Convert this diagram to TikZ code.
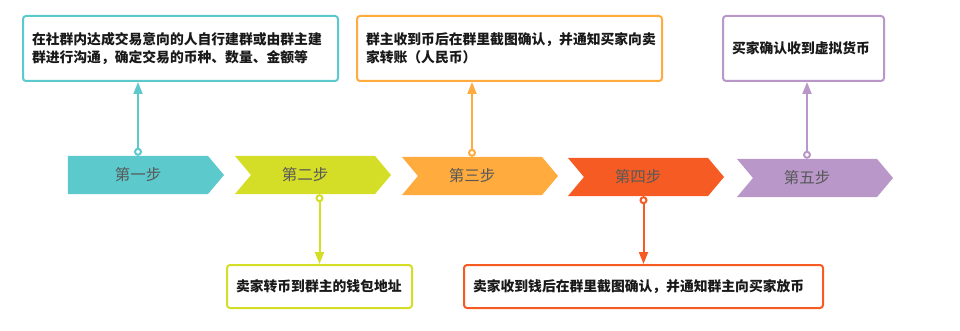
\documentclass[tikz,border=0pt]{standalone}
\usepackage{fontspec}
\setmainfont{Noto Sans CJK SC}
\usetikzlibrary{arrows.meta,positioning,shapes.symbols}
\definecolor{StepA}{HTML}{5CC9CC}
\definecolor{StepB}{HTML}{D5DE26}
\definecolor{StepC}{HTML}{FFAB3D}
\definecolor{StepD}{HTML}{F55B22}
\definecolor{StepE}{HTML}{B997C9}
\definecolor{StepText}{HTML}{595959}
\newcommand{\notchtext}[1]{\hspace*{-16pt}#1}
\tikzset{
  stepsign/.style={
    signal,
    signal to=east,
    signal pointer angle=100,
    fill=#1,
    minimum height=38pt,
    minimum width=156pt,
    inner sep=0pt,
    text=StepText,
    font=\fontsize{15.5}{18}\selectfont
  },
  notched/.style={signal from=west},
  notebox/.style={
    draw=#1,
    line width=2pt,
    rounded corners=3pt,
    fill=white,
    align=left,
    inner xsep=9pt,
    text=black!90,
    font=\fontsize{13.8}{18}\selectfont\bfseries
  },
  steplink/.style={
    draw=#1,
    line width=2pt,
    {Circle[open,length=8pt,width=8pt,fill=white]}-{Triangle[length=12pt,width=9pt]}
  }
}

\begin{document}
\begin{tikzpicture}[x=1pt,y=-1pt]
\useasboundingbox (0,0) rectangle (960,331);
% steps
\node[stepsign=StepA] (s1) at (138,175) {第一步};
\node[stepsign=StepB, notched] (s2) at (313,175) {\notchtext{第二步}};
\node[stepsign=StepC, notched] (s3) at (480,176) {\notchtext{第三步}};
\node[stepsign=StepD, notched] (s4) at (646,177) {\notchtext{第四步}};
\node[stepsign=StepE, notched] (s5) at (815,178) {\notchtext{第五步}};
% notes
\node[notebox=StepA, text width=297pt, minimum height=65pt] (n1) at (180.5,48.5)
  {在社群内达成交易意向的人自行建群或由群主建\\群进行沟通，确定交易的币种、数量、金额等};
\node[notebox=StepC, text width=287pt, minimum height=65pt] (n3) at (509.5,48.5)
  {群主收到币后在群里截图确认，并通知买家向卖\\家转账（人民币）};
\node[notebox=StepE, text width=143pt, minimum height=65pt] (n5) at (803.5,48.5)
  {买家确认收到虚拟货币};
\node[notebox=StepB, text width=167pt, minimum height=43pt] (n2) at (319.5,286.5)
  {卖家转币到群主的钱包地址};
\node[notebox=StepD, text width=341pt, minimum height=43pt] (n4) at (643.5,286.5)
  {卖家收到钱后在群里截图确认，并通知群主向买家放币};
% links
\draw[steplink=StepA] (s1.north) -- (s1.north |- n1.south);
\draw[steplink=StepC] ([xshift=-8pt]s3.north) -- ([xshift=-8pt]s3.north |- n3.south);
\draw[steplink=StepE] ([xshift=-8pt]s5.north) -- ([xshift=-8pt]s5.north |- n5.south);
\draw[steplink=StepB] (s2.south -| n2.north) -- (n2.north);
\draw[steplink=StepD] (s4.south -| n4.north) -- (n4.north);
\end{tikzpicture}
\end{document}
